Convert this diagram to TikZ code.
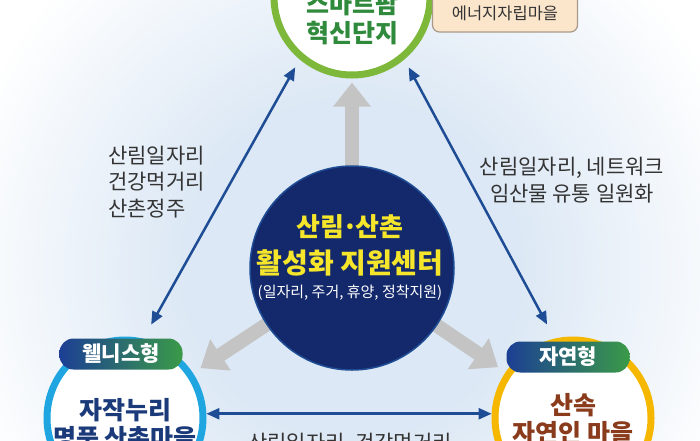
\documentclass[tikz,border=0pt]{standalone}
\usepackage{fontspec}
\setmainfont{Noto Sans CJK KR}
\usepackage{tikz}
\usetikzlibrary{arrows.meta}

\definecolor{navyc}{HTML}{14296B}
\definecolor{navyt}{HTML}{1B3A7A}
\definecolor{bluea}{HTML}{1E4D95}
\definecolor{greenr}{HTML}{7DB83A}
\definecolor{greent}{HTML}{2F8A3C}
\definecolor{skyr}{HTML}{1FA5E0}
\definecolor{goldr}{HTML}{F5B700}
\definecolor{brownt}{HTML}{8A3B1C}
\definecolor{yell}{HTML}{F5E62B}
\definecolor{glow}{HTML}{DCE8F5}
\definecolor{grayarr}{HTML}{C4C4C4}
\definecolor{boxfill}{HTML}{FBE6CC}
\definecolor{boxline}{HTML}{A89A8A}
\definecolor{labt}{HTML}{333333}
\definecolor{pillL}{HTML}{1C3F94}
\definecolor{pillR}{HTML}{3A9A48}

\pgfdeclareradialshading{bgglow}{\pgfpoint{0bp}{0bp}}{color(0bp)=(glow); color(7bp)=(glow); color(17bp)=(white); color(50bp)=(white)}

\begin{document}
\begin{tikzpicture}[x=1pt,y=-1pt,
            ring/.style={circle,fill=white,line width=7pt,minimum size=156pt,inner sep=0pt},
            pill/.style={rounded corners=14pt,minimum width=123pt,minimum height=31pt,
              left color=pillL,right color=pillR,text=white,inner sep=0pt,
              font=\fontsize{21pt}{21pt}\selectfont\bfseries},
            big/.style={-{Triangle[width=36pt,length=24pt]},grayarr,line width=14pt},
            link/.style={{Triangle[width=11pt,length=13pt]}-{Triangle[width=11pt,length=13pt]},
              bluea,line width=2.5pt},
            lab/.style={text=labt,inner sep=0pt,font=\fontsize{21pt}{26.5pt}\selectfont},
            ttl/.style={font=\fontsize{25pt}{25pt}\selectfont\bfseries}]

            \useasboundingbox (0,0) rectangle (700,440);
            \clip (0,0) rectangle (700,440);
            \shade[shading=bgglow] (352,268) circle (600);

            % the three types round the centre
            \node[ring,draw=greenr] (top) at (352,-3) {};
            \node[ring,draw=skyr] (lft) at (125,418) {};
            \node[ring,draw=goldr] (rgt) at (573,418) {};

            % centre, with the grey arrows running out from behind it
            \coordinate (c0) at (352,268);
            \draw[big,shorten >=4pt] (c0) -- (top);
            \draw[big,shorten >=9pt] (c0) -- (lft);
            \draw[big,shorten >=9pt] (c0) -- (rgt);
            \node[circle,fill=navyc,draw=bluea,line width=1.5pt,minimum size=204pt] (ctr) at (c0) {};
            \node[text=yell,font=\fontsize{26pt}{26pt}\selectfont\bfseries] (ct1) at (350,227) {산림\kern-.1em·\kern-.1em산촌};
            \node[text=yell,font=\fontsize{28pt}{28pt}\selectfont\bfseries] (ct2) at (350,263) {활성화 지원센터};
            \node[text=white,font=\fontsize{15pt}{15pt}\selectfont] (ct3) at (350,293) {(일자리, 주거, 휴양, 정착지원)};

            % blue links between the types
            \draw[link,shorten <=16pt,shorten >=9pt] (lft.77) -- (top.230);
            \draw[link,shorten <=16pt,shorten >=9pt] (rgt.103) -- (top.310);
            \draw[link] (lft.3) -- (rgt.177);

            \node[lab,anchor=west,align=left] (tl) at (108,182) {산림일자리\\건강먹거리\\산촌정주};
            \node[lab,align=center] (tr) at (572,180) {산림일자리, 네트워크\\임산물 유통 일원화};
            \node[lab] (tb) at (350,444) {산림일자리, 건강먹거리};

            % names of the three types
            \node[ttl,text=greent] (top1) at (352,4) {스마트팜};
            \node[ttl,text=greent] (top2) at (352,33) {혁신단지};
            \node[rounded corners=7pt,fill=boxfill,draw=boxline,line width=1.2pt,
              minimum width=145pt,minimum height=42pt] (ebox) at (505,11) {};
            \node[text=labt,font=\fontsize{16.5pt}{16.5pt}\selectfont] (etx) at (505,13) {에너지자립마을};

            \node[pill] (wp) at (121,354) {웰니스형};
            \node[ttl,text=navyt] (l1) at (125,410) {자작누리};
            \node[ttl,text=navyt] (l2) at (125,438) {명품 산촌마을};

            \node[pill] (np) at (568,357) {자연형};
            \node[ttl,text=brownt] (r1) at (573,405) {산속};
            \node[ttl,text=brownt] (r2) at (573,433) {자연인 마을};
        \end{tikzpicture}
\end{document}
